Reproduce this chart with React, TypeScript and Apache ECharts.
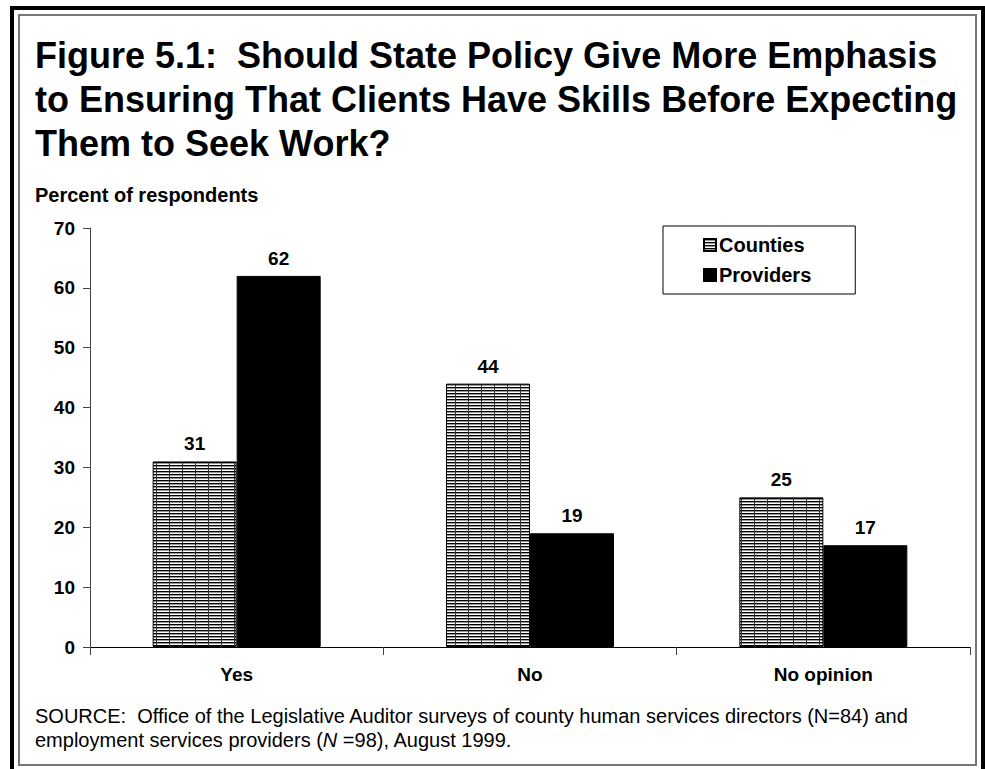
import React, { useEffect, useRef } from "react";
import * as echarts from "echarts";

const categories = ["Yes", "No", "No opinion"];
const counties = [31, 44, 25];
const providers = [62, 19, 17];
const seriesNames = ["Counties", "Providers"];
const titleLines = [
  "Figure 5.1:  Should State Policy Give More Emphasis",
  "to Ensuring That Clients Have Skills Before Expecting",
  "Them to Seek Work?",
];
const yAxisTitle = "Percent of respondents";
const sourceLine1 =
  "SOURCE:  Office of the Legislative Auditor surveys of county human services directors (N=84) and";

function makePattern(): HTMLCanvasElement {
  const c = document.createElement("canvas");
  c.width = 13;
  c.height = 3;
  const ctx = c.getContext("2d")!;
  ctx.fillStyle = "#ffffff";
  ctx.fillRect(0, 0, 13, 3);
  ctx.fillStyle = "#000000";
  ctx.fillRect(0, 0, 13, 1);
  ctx.fillStyle = "#9a9a9a";
  ctx.fillRect(0, 1, 13, 1);
  ctx.fillStyle = "#333333";
  ctx.fillRect(0, 0, 1, 3);
  return c;
}

export default function App() {
  const ref = useRef<HTMLDivElement>(null);
  useEffect(() => {
    if (!ref.current) return;
    const chart = echarts.init(ref.current, null, { renderer: "svg" });
    const pattern = { image: makePattern(), repeat: "repeat" as const };
    const font = "Liberation Sans, Arial, sans-serif";
    const option: any = {
      animation: false,
      backgroundColor: "#ffffff",
      textStyle: { fontFamily: font },
      grid: { left: 90, top: 228, width: 880, height: 419, containLabel: false },
      legend: {
        orient: "vertical",
        left: 663,
        top: 226,
        padding: [9, 44, 9, 40],
        itemGap: 10,
        itemWidth: 12,
        itemHeight: 12,
        borderColor: "#000",
        borderWidth: 1,
        backgroundColor: "#fff",
        textStyle: { fontFamily: font, fontWeight: "bold", fontSize: 20, color: "#000", padding: [0, 0, 0, -2] },
        data: seriesNames.map((n) => ({ name: n, icon: "rect" })),
      },
      xAxis: {
        type: "category",
        data: categories,
        axisLine: { lineStyle: { color: "#000", width: 1 } },
        axisTick: { show: true, length: 8, lineStyle: { color: "#444" } },
        axisLabel: { fontFamily: font, fontWeight: "bold", fontSize: 19, color: "#000", margin: 18 },
      },
      yAxis: {
        type: "value",
        min: 0,
        max: 70,
        interval: 10,
        splitLine: { show: false },
        axisLine: { show: true, lineStyle: { color: "#444", width: 1 } },
        axisTick: { show: true, length: 7, lineStyle: { color: "#444" } },
        axisLabel: { fontFamily: font, fontWeight: "bold", fontSize: 19, color: "#000", margin: 15 },
      },
      series: [
        {
          name: seriesNames[0],
          type: "bar",
          data: counties,
          barWidth: 84,
          barGap: "0%",
          itemStyle: { color: pattern, borderColor: "#000", borderWidth: 1 },
          label: { show: true, position: "top", distance: 8, fontFamily: font, fontWeight: "bold", fontSize: 19, color: "#000" },
        },
        {
          name: seriesNames[1],
          type: "bar",
          data: providers,
          barWidth: 84,
          barGap: "0%",
          itemStyle: { color: "#000", borderColor: "#000", borderWidth: 1 },
          label: { show: true, position: "top", distance: 8, fontFamily: font, fontWeight: "bold", fontSize: 19, color: "#000" },
        },
      ],
      graphic: [
        { type: "rect", shape: { x: 12, y: 8, width: 971, height: 780 }, style: { fill: "none", stroke: "#000", lineWidth: 4 }, silent: true },
        { type: "rect", shape: { x: 19, y: 15, width: 957, height: 750 }, style: { fill: "none", stroke: "#777", lineWidth: 2 }, silent: true },
        ...titleLines.map((t, i) => ({
          type: "text",
          x: 35,
          y: 55 + i * 44,
          style: { text: t, fontFamily: font, fontWeight: "bold", fontSize: 36, fill: "#000", textVerticalAlign: "middle" },
        })),
        {
          type: "text",
          x: 35,
          y: 195,
          style: { text: yAxisTitle, fontFamily: font, fontWeight: "bold", fontSize: 20, fill: "#000", textVerticalAlign: "middle" },
        },
        {
          type: "text",
          x: 35,
          y: 716,
          style: { text: sourceLine1, fontFamily: font, fontSize: 20, fill: "#000", textVerticalAlign: "middle" },
        },
        {
          type: "text",
          x: 35,
          y: 740,
          style: {
            text: "{a|employment services providers (}{i|N}{a| =98), August 1999.}",
            textVerticalAlign: "middle",
            rich: {
              a: { fontFamily: font, fontSize: 20, color: "#000" },
              i: { fontFamily: font, fontSize: 20, fontStyle: "italic", color: "#000" },
            },
          },
        },
      ],
    };
    chart.setOption(option);
    return () => chart.dispose();
  }, []);
  return (
    <div
      ref={ref}
      style={{ position: "absolute", left: 0, top: 0, width: 985, height: 769, background: "#fff" }}
    />
  );
}
